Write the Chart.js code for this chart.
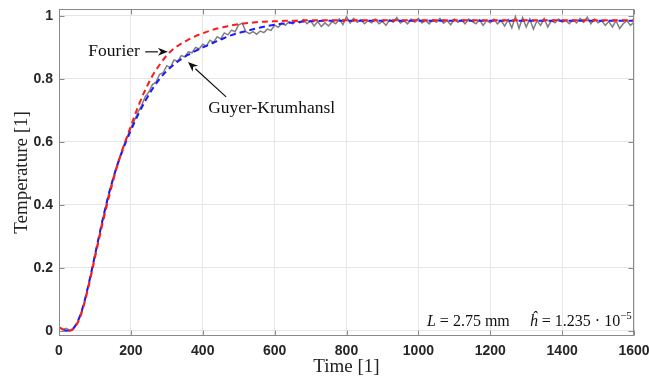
<!DOCTYPE html>
<html>
<head>
<meta charset="utf-8">
<script src="https://cdn.jsdelivr.net/npm/chart.js@4.4.1/dist/chart.umd.min.js"></script>
<style>
  html, body { margin: 0; padding: 0; background: #fff; }
  #wrap { width: 649px; height: 381px; }
</style>
</head>
<body>
<div id="wrap"><canvas id="tempChart" width="649" height="381"></canvas></div>
<script>
// tick positions
const xTicks = [0, 200, 400, 600, 800, 1000, 1200, 1400, 1600];
const yTicks = [0, 0.2, 0.4, 0.6, 0.8, 1];

// model curves (Fourier, Guyer-Krumhansl)
const modelTime = [0, 10, 20, 30, 40, 50, 60, 70, 80, 90, 100, 120, 140, 160, 180, 200, 220, 240, 260, 280,
    300, 320, 340, 360, 380, 400, 420, 440, 460, 480, 500, 520, 540, 560, 580, 600, 620, 640, 660, 680,
    700, 750, 800, 900, 1000, 1100, 1200, 1300, 1400, 1500, 1600];
const fourierVals = [0.012, 0.006, 0.002, 0.001, 0.006, 0.022, 0.047, 0.085, 0.13, 0.18, 0.232, 0.335, 0.43, 0.515, 0.587, 0.65, 0.712, 0.765, 0.81, 0.845,
    0.875, 0.897, 0.912, 0.925, 0.936, 0.945, 0.953, 0.96, 0.965, 0.97, 0.974, 0.977, 0.979, 0.981, 0.982, 0.983, 0.984, 0.985, 0.985, 0.986,
    0.986, 0.986, 0.986, 0.986, 0.986, 0.986, 0.986, 0.986, 0.986, 0.986, 0.986];
const gkVals = [0.008, 0.003, 0.001, 0.002, 0.008, 0.026, 0.052, 0.09, 0.136, 0.187, 0.24, 0.345, 0.44, 0.518, 0.582, 0.637, 0.686, 0.73, 0.768, 0.80,
    0.826, 0.846, 0.863, 0.877, 0.889, 0.90, 0.91, 0.92, 0.93, 0.939, 0.946, 0.952, 0.958, 0.963, 0.968, 0.972, 0.975, 0.978, 0.98, 0.982,
    0.983, 0.985, 0.985, 0.985, 0.985, 0.985, 0.985, 0.985, 0.985, 0.985, 0.985];

// measured signal
const measTime = [0, 10, 20, 30, 40, 50, 60, 70, 80, 90, 100, 110, 120, 130, 140, 150, 160, 170, 180, 190,
    200, 210, 220, 230, 240, 250, 260, 270, 280, 290, 300, 310, 320, 330, 340, 350, 360, 370, 380, 390,
    400, 410, 420, 430, 440, 450, 460, 470, 480, 490, 500, 510, 520, 530, 540, 550, 560, 570, 580, 590,
    600, 610, 620, 630, 640, 650, 660, 670, 680, 690, 700, 710, 720, 730, 740, 750, 760, 770, 780, 790,
    800, 810, 820, 830, 840, 850, 860, 870, 880, 890, 900, 910, 920, 930, 940, 950, 960, 970, 980, 990,
    1000, 1010, 1020, 1030, 1040, 1050, 1060, 1070, 1080, 1090, 1100, 1110, 1120, 1130, 1140, 1150, 1160, 1170, 1180, 1190,
    1200, 1210, 1220, 1230, 1240, 1250, 1260, 1270, 1280, 1290, 1300, 1310, 1320, 1330, 1340, 1350, 1360, 1370, 1380, 1390,
    1400, 1410, 1420, 1430, 1440, 1450, 1460, 1470, 1480, 1490, 1500, 1510, 1520, 1530, 1540, 1550, 1560, 1570, 1580, 1590, 1600];
const measVals = [0.012, 0.004, 0.008, 0.002, 0.009, 0.024, 0.054, 0.09, 0.138, 0.186,
    0.243, 0.292, 0.348, 0.396, 0.443, 0.484, 0.522, 0.556, 0.588, 0.616,
    0.645, 0.668, 0.695, 0.716, 0.744, 0.758, 0.782, 0.79, 0.815, 0.82,
    0.842, 0.836, 0.86, 0.856, 0.874, 0.87, 0.886, 0.883, 0.9, 0.895,
    0.91, 0.904, 0.923, 0.916, 0.934, 0.927, 0.946, 0.94, 0.955, 0.95,
    0.972, 0.977, 0.95, 0.944, 0.95, 0.942, 0.952, 0.947, 0.958, 0.954,
    0.971, 0.964, 0.977, 0.97, 0.982, 0.975, 0.985, 0.978, 0.988, 0.975,
    0.985, 0.968, 0.982, 0.966, 0.978, 0.968, 0.982, 0.975, 0.99, 0.972,
    0.998, 0.978, 0.992, 0.98, 0.988, 0.975, 0.985, 0.978, 0.99, 0.975,
    0.982, 0.97, 0.988, 0.98, 0.995, 0.978, 0.985, 0.975, 0.99, 0.98,
    0.992, 0.978, 0.986, 0.975, 0.988, 0.98, 0.992, 0.977, 0.985, 0.972,
    0.99, 0.98, 0.987, 0.975, 0.99, 0.982, 0.975, 0.988, 0.97, 0.985,
    0.978, 0.99, 0.975, 0.985, 0.968, 0.988, 0.962, 0.998, 0.96, 0.995,
    0.965, 0.99, 0.958, 0.985, 0.97, 0.992, 0.965, 0.985, 0.978, 0.99,
    0.98, 0.985, 0.975, 0.988, 0.978, 0.992, 0.98, 0.996, 0.975, 0.99,
    0.978, 0.985, 0.97, 0.982, 0.965, 0.985, 0.96, 0.975, 0.985, 0.97,
    0.98];

const SERIF = '"Liberation Serif", "DejaVu Serif", serif';
const SANS = '"Liberation Sans", Arial, sans-serif';

function toPoints(xs, ys) {
    return xs.map((t, i) => ({ x: t, y: ys[i] }));
}

function arrow(ctx, x1, y1, x2, y2) {
    const ang = Math.atan2(y2 - y1, x2 - x1);
    const len = 10, half = 4;
    const bx = x2 - len * Math.cos(ang), by = y2 - len * Math.sin(ang);
    ctx.beginPath();
    ctx.moveTo(x1, y1);
    ctx.lineTo(bx, by);
    ctx.stroke();
    ctx.beginPath();
    ctx.moveTo(x2, y2);
    ctx.lineTo(bx - half * Math.sin(ang), by + half * Math.cos(ang));
    ctx.lineTo(x2 - len * 0.7 * Math.cos(ang), y2 - len * 0.7 * Math.sin(ang));
    ctx.lineTo(bx + half * Math.sin(ang), by - half * Math.cos(ang));
    ctx.closePath();
    ctx.fill();
}

// box around the axes, inward ticks and the text notes
const framePlugin = {
    id: 'frame',
    afterDatasetsDraw(chart) {
        const { ctx, chartArea: a, scales: { x, y } } = chart;
        ctx.save();
        ctx.strokeStyle = '#8a8a8a';
        ctx.lineWidth = 1;
        const L = Math.round(a.left) + 0.5, R = Math.round(a.right) - 0.5;
        const T = Math.round(a.top) + 0.5, B = Math.round(a.bottom) - 0.5;
        ctx.strokeRect(L, T, R - L, B - T);
        ctx.beginPath();
        xTicks.forEach(v => {
            const px = Math.round(x.getPixelForValue(v)) + 0.5;
            ctx.moveTo(px, B); ctx.lineTo(px, B - 5);
            ctx.moveTo(px, T); ctx.lineTo(px, T + 5);
        });
        yTicks.forEach(v => {
            const py = Math.round(y.getPixelForValue(v)) + 0.5;
            ctx.moveTo(L, py); ctx.lineTo(L + 5, py);
            ctx.moveTo(R, py); ctx.lineTo(R - 5, py);
        });
        ctx.stroke();

        // notes
        ctx.fillStyle = '#111';
        ctx.strokeStyle = '#111';
        ctx.lineWidth = 1.2;
        ctx.font = '17.5px ' + SERIF;
        ctx.textBaseline = 'middle';
        ctx.textAlign = 'right';
        ctx.fillText('Fourier', x.getPixelForValue(225), y.getPixelForValue(0.886));
        arrow(ctx, x.getPixelForValue(240), y.getPixelForValue(0.886), x.getPixelForValue(303), y.getPixelForValue(0.886));
        ctx.textAlign = 'left';
        ctx.fillText('Guyer-Krumhansl', x.getPixelForValue(415), y.getPixelForValue(0.708));
        arrow(ctx, x.getPixelForValue(465), y.getPixelForValue(0.743), x.getPixelForValue(359), y.getPixelForValue(0.854));

        // parameter line at the lower right
        const parts = [
            { s: 'L', f: 'italic 16px ' + SERIF },
            { s: ' = 2.75 mm     ', f: '16px ' + SERIF },
            { s: 'ĥ', f: 'italic 16px ' + SERIF },
            { s: ' = 1.235 · 10', f: '16px ' + SERIF },
            { s: '−5', f: '11px ' + SERIF, sup: true }
        ];
        let total = 0;
        parts.forEach(p => { ctx.font = p.f; p.w = ctx.measureText(p.s).width; total += p.w; });
        let cx = x.getPixelForValue(1594) - total;
        const cy = y.getPixelForValue(0.029);
        parts.forEach(p => {
            ctx.font = p.f;
            ctx.fillText(p.s, cx, p.sup ? cy - 6 : cy);
            cx += p.w;
        });
        ctx.restore();
    }
};

new Chart(document.getElementById('tempChart'), {
    type: 'line',
    data: {
        datasets: [
            {
                label: 'Fourier',
                data: toPoints(modelTime, fourierVals),
                borderColor: '#ff1a1a',
                borderWidth: 2,
                borderDash: [6, 4],
                pointRadius: 0,
                cubicInterpolationMode: 'monotone'
            },
            {
                label: 'Guyer-Krumhansl',
                data: toPoints(modelTime, gkVals),
                borderColor: '#1a1aff',
                borderWidth: 2,
                borderDash: [6, 4],
                borderDashOffset: 5,
                pointRadius: 0,
                cubicInterpolationMode: 'monotone'
            },
            {
                label: 'Measurement',
                data: toPoints(measTime, measVals),
                borderColor: '#7f7f7f',
                borderWidth: 1.5,
                pointRadius: 0,
                tension: 0
            }
        ]
    },
    options: {
        responsive: false,
        animation: false,
        events: [],
        layout: { padding: { top: 9, right: 15, left: 0, bottom: 0 } },
        plugins: {
            legend: { display: false },
            tooltip: { enabled: false }
        },
        scales: {
            x: {
                type: 'linear',
                min: 0,
                max: 1600,
                afterBuildTicks: s => { s.ticks = xTicks.map(v => ({ value: v })); },
                afterFit: s => { s.height = 45; s.paddingLeft = 0; s.paddingRight = 0; },
                grid: { color: '#e6e6e6', drawTicks: false },
                border: { display: false },
                ticks: {
                    padding: 7,
                    color: '#262626',
                    font: { family: SANS, size: 14, weight: 'bold' },
                    callback: v => String(v),
                    maxRotation: 0
                },
                title: {
                    display: true,
                    text: 'Time [1]',
                    color: '#222',
                    font: { family: SERIF, size: 19 },
                    padding: { top: 0, bottom: 3 }
                }
            },
            y: {
                min: -0.016,
                max: 1.022,
                afterBuildTicks: s => { s.ticks = yTicks.map(v => ({ value: v })); },
                afterFit: s => { s.width = 59; s.paddingTop = 0; s.paddingBottom = 0; },
                grid: { color: '#e6e6e6', drawTicks: false },
                border: { display: false },
                ticks: {
                    padding: 6,
                    color: '#262626',
                    font: { family: SANS, size: 14, weight: 'bold' },
                    callback: v => String(v)
                },
                title: {
                    display: true,
                    text: 'Temperature [1]',
                    color: '#222',
                    font: { family: SERIF, size: 19 },
                    padding: { top: 11, bottom: 0 }
                }
            }
        }
    },
    plugins: [framePlugin]
});
</script>
</body>
</html>
